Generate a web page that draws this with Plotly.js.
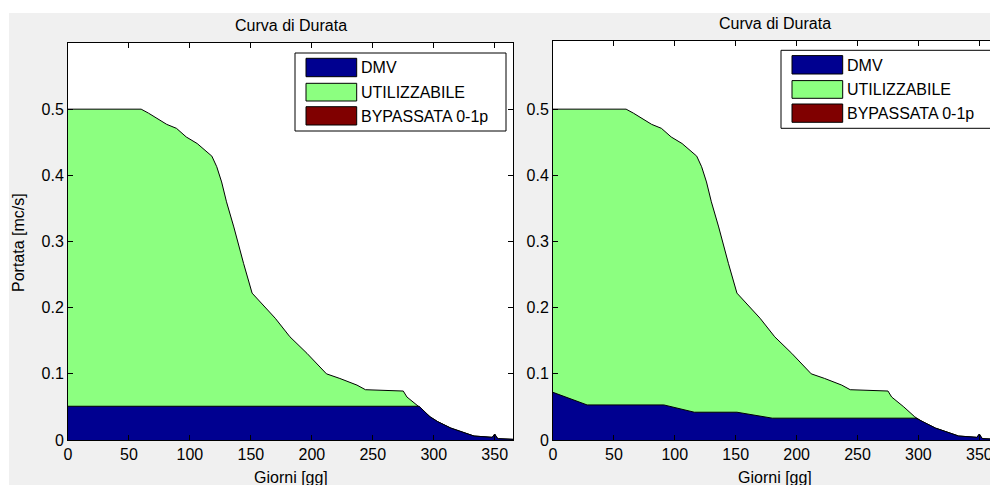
<!DOCTYPE html>
<html>
<head>
<meta charset="utf-8">
<script src="https://cdn.plot.ly/plotly-3.0.1.min.js"></script>
<style>
  html, body { margin: 0; padding: 0; overflow: hidden; background: #ffffff; }
  #chart { width: 1000px; height: 485px; }
</style>
</head>
<body>
<div id="chart"></div>
<script>
// ---- Data ----
// Duration curve (total discharge) - same in both panels
const giorni = [0, 60, 66, 73, 81, 89, 97, 106, 113, 118, 122, 126, 130, 136, 144, 151, 170, 182, 196, 212, 223, 237, 244, 275, 278, 288, 297, 303, 314, 322, 333, 348, 350, 352, 353, 365];
const portata = [0.5, 0.5, 0.494, 0.486, 0.477, 0.471, 0.458, 0.448, 0.437, 0.429, 0.413, 0.39, 0.36, 0.322, 0.267, 0.222, 0.184, 0.156, 0.131, 0.1, 0.093, 0.083, 0.076, 0.074, 0.065, 0.050, 0.035, 0.028, 0.018, 0.013, 0.006, 0.004, 0.009, 0.003, 0.002, 0.001];

// DMV (left panel): constant, then limited by the available discharge
const giorniDmvSx = [0, 288, 297, 303, 314, 322, 333, 348, 350, 352, 353, 365];
const dmvSx = [0.051, 0.051, 0.035, 0.028, 0.018, 0.013, 0.006, 0.004, 0.009, 0.003, 0.002, 0.001];

// DMV (right panel): variable, then limited by the available discharge
const giorniDmvDx = [0, 10, 28, 91, 100, 116, 151, 165, 180, 298, 303, 314, 322, 333, 348, 350, 352, 353, 365];
const dmvDx = [0.072, 0.065, 0.053, 0.053, 0.049, 0.042, 0.042, 0.038, 0.033, 0.033, 0.028, 0.018, 0.013, 0.006, 0.004, 0.009, 0.003, 0.002, 0.001];

// BYPASSATA 0-1p: zero everywhere
const giorniByp = [0, 365];
const bypassata = [0, 0];

const legendLabels = ['DMV', 'UTILIZZABILE', 'BYPASSATA 0-1p'];
const xTicks = [0, 50, 100, 150, 200, 250, 300, 350];
const yTicks = [0, 0.1, 0.2, 0.3, 0.4, 0.5];
const titolo = 'Curva di Durata';
const xTitolo = 'Giorni [gg]';
const yTitolo = 'Portata [mc/s]';

// ---- Styling ----
const C_DMV = '#000090';
const C_UTIL = '#8cff80';
const C_BYP = '#800000';
const FONT = 'Liberation Sans, Arial, sans-serif';
const W = 1000, H = 485;
const px = x => x / W;
const py = y => (H - y) / H;

function areaTrace(x, y, color, xa, ya, name) {
  return {
    x: x, y: y, xaxis: xa, yaxis: ya, name: name,
    type: 'scatter', mode: 'lines', fill: 'tozeroy',
    fillcolor: color, line: { color: '#000000', width: 1 },
    hoverinfo: 'skip', showlegend: false
  };
}

// byp stacked on top of the total discharge (zero thickness)
const bypTop = (xa, ya) => ({
  x: giorniByp, y: bypassata, xaxis: xa, yaxis: ya, name: legendLabels[2],
  type: 'scatter', mode: 'lines', line: { color: C_BYP, width: 0 },
  hoverinfo: 'skip', showlegend: false
});

const data = [
  areaTrace(giorni, portata, C_UTIL, 'x', 'y', legendLabels[1]),
  areaTrace(giorniDmvSx, dmvSx, C_DMV, 'x', 'y', legendLabels[0]),
  bypTop('x', 'y'),
  areaTrace(giorni, portata, C_UTIL, 'x2', 'y2', legendLabels[1]),
  areaTrace(giorniDmvDx, dmvDx, C_DMV, 'x2', 'y2', legendLabels[0]),
  bypTop('x2', 'y2')
];

function axisX(domain, anchor) {
  return {
    domain: domain, anchor: anchor, range: [0, 365],
    tickvals: xTicks, ticks: 'inside', ticklen: 5, tickcolor: '#000',
    showline: true, linecolor: '#000', linewidth: 1, mirror: 'allticks',
    showgrid: false, zeroline: false,
    tickfont: { family: FONT, size: 16, color: '#000' }, fixedrange: true
  };
}
function axisY(domain, anchor, top) {
  return {
    domain: domain, anchor: anchor, range: [0, top],
    tickvals: yTicks, ticks: 'inside', ticklen: 5, tickcolor: '#000',
    showline: true, linecolor: '#000', linewidth: 1, mirror: 'allticks',
    showgrid: false, zeroline: false,
    tickfont: { family: FONT, size: 16, color: '#000' }, fixedrange: true
  };
}

const shapes = [
  // white strips around the grey figure area
  { type: 'rect', xref: 'paper', yref: 'paper', x0: 0, x1: 1, y0: py(13), y1: 1, fillcolor: '#ffffff', line: { width: 0 }, layer: 'below' },
  { type: 'rect', xref: 'paper', yref: 'paper', x0: 0, x1: px(9), y0: 0, y1: 1, fillcolor: '#ffffff', line: { width: 0 }, layer: 'below' }
];
const annotations = [];

function addLegend(bx, by) {
  shapes.push({ type: 'rect', xref: 'paper', yref: 'paper', x0: px(bx), x1: px(bx + 211), y0: py(by + 78), y1: py(by), fillcolor: '#ffffff', line: { color: '#000', width: 1 } });
  const cols = [C_DMV, C_UTIL, C_BYP];
  const offs = [[5.3, 23.7], [30.3, 48], [53.7, 72]];
  for (let i = 0; i < 3; i++) {
    shapes.push({ type: 'rect', xref: 'paper', yref: 'paper', x0: px(bx + 11), x1: px(bx + 61.7), y0: py(by + offs[i][1]), y1: py(by + offs[i][0]), fillcolor: cols[i], line: { color: '#000', width: 1 } });
    annotations.push({ xref: 'paper', yref: 'paper', x: px(bx + 64), y: py(by + (offs[i][0] + offs[i][1]) / 2 + 0.5), xanchor: 'left', yanchor: 'middle', showarrow: false, text: legendLabels[i], font: { family: FONT, size: 16, color: '#000' } });
  }
}
addLegend(295, 53);
addLegend(781, 50.3);

// titles
annotations.push({ xref: 'paper', yref: 'paper', x: px(290.5), y: py(25), xanchor: 'center', yanchor: 'middle', showarrow: false, text: titolo, font: { family: FONT, size: 16, color: '#000' } });
annotations.push({ xref: 'paper', yref: 'paper', x: px(775), y: py(23.5), xanchor: 'center', yanchor: 'middle', showarrow: false, text: titolo, font: { family: FONT, size: 16, color: '#000' } });
annotations.push({ xref: 'paper', yref: 'paper', x: px(290.5), y: py(477), xanchor: 'center', yanchor: 'middle', showarrow: false, text: xTitolo, font: { family: FONT, size: 16, color: '#000' } });
annotations.push({ xref: 'paper', yref: 'paper', x: px(775), y: py(477), xanchor: 'center', yanchor: 'middle', showarrow: false, text: xTitolo, font: { family: FONT, size: 16, color: '#000' } });
annotations.push({ xref: 'paper', yref: 'paper', x: px(18), y: py(243), xanchor: 'center', yanchor: 'middle', textangle: -90, showarrow: false, text: yTitolo, font: { family: FONT, size: 16, color: '#000' } });

const layout = {
  width: W, height: H,
  margin: { l: 0, r: 0, t: 0, b: 0, pad: 0 },
  paper_bgcolor: '#f0f0f0', plot_bgcolor: '#ffffff',
  showlegend: false,
  font: { family: FONT, size: 16, color: '#000' },
  xaxis: axisX([px(68), px(513)], 'y'),
  yaxis: axisY([py(440), py(43)], 'x', 0.6),
  xaxis2: axisX([px(553), px(997.6)], 'y2'),
  yaxis2: axisY([py(440), py(41)], 'x2', 0.603),
  shapes: shapes,
  annotations: annotations
};

Plotly.newPlot('chart', data, layout, { staticPlot: true, displayModeBar: false });
</script>
</body>
</html>
